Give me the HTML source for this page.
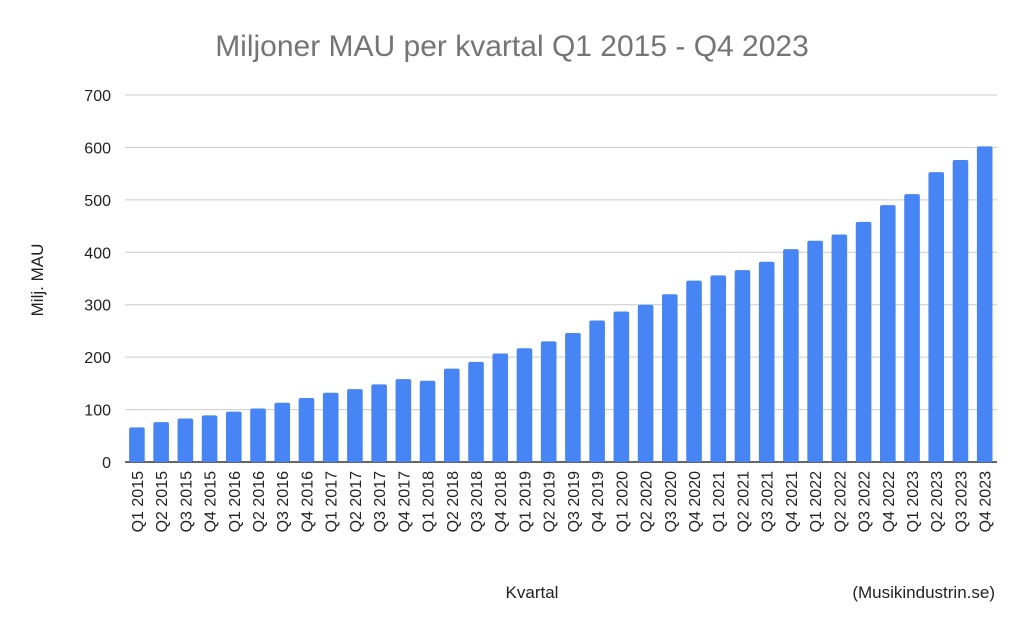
<!DOCTYPE html>
<html><head><meta charset="utf-8"><style>
body{margin:0;background:#fff;font-family:"Liberation Sans",sans-serif}
</style></head><body>
<svg id="chart" width="1024" height="632" xmlns="http://www.w3.org/2000/svg" font-family="Liberation Sans, sans-serif">
<text x="512" y="56" text-anchor="middle" font-size="30" fill="#757575">Miljoner MAU per kvartal Q1 2015 - Q4 2023</text>
<text transform="translate(43,280) rotate(-90)" text-anchor="middle" font-size="17" fill="#222">Milj. MAU</text>
<text x="532" y="598" text-anchor="middle" font-size="17" fill="#222">Kvartal</text>
<text x="995" y="598" text-anchor="end" font-size="17" fill="#222">(Musikindustrin.se)</text>
<g id="grid"></g><g id="bars"></g><g id="xlabels"></g>
</svg>
<script>
const categories=[];
for(let y=2015;y<=2023;y++)for(let q=1;q<=4;q++)categories.push('Q'+q+' '+y);
const values=[66,76,83,89,96,102,113,122,132,139,148,158,155,178,191,207,217,230,246,270,287,300,320,346,356,366,382,406,422,434,458,490,511,553,576,602];
const yTicks=[0,100,200,300,400,500,600,700];
const NS='http://www.w3.org/2000/svg';
const x0=125,x1=997,yBase=462,yTop=95,yMax=700;
const yScale=v=>yBase-(v/yMax)*(yBase-yTop);
const step=(x1-x0)/categories.length;
const xScale=i=>x0+step*(i+0.5)-0.2;
const grid=document.getElementById('grid');
yTicks.forEach(t=>{
 const l=document.createElementNS(NS,'line');
 
 
 l.setAttribute('x1',x0);l.setAttribute('x2',x1);
 l.setAttribute('y1',yScale(t));l.setAttribute('y2',yScale(t));
 l.setAttribute('stroke',t===0?'#333':'#ccc');l.setAttribute('stroke-width',t===0?1.5:1);
 grid.appendChild(l);
 const tx=document.createElementNS(NS,'text');
 
 
 tx.setAttribute('x',111);tx.setAttribute('y',yScale(t)+6);
 tx.setAttribute('text-anchor','end');tx.setAttribute('font-size','16');tx.setAttribute('fill','#222');
 tx.textContent=t;grid.appendChild(tx);
});
const bars=document.getElementById('bars'),xl=document.getElementById('xlabels');
const bw=15.6;
values.forEach((v,i)=>{
 const r=document.createElementNS(NS,'rect');
 
 
 r.setAttribute('x',xScale(i)-bw/2);r.setAttribute('width',bw);
 r.setAttribute('y',yScale(v));r.setAttribute('height',yBase-yScale(v));
 r.setAttribute('rx',2);r.setAttribute('fill','#4785f4');
 bars.appendChild(r);
 const t=document.createElementNS(NS,'text');
 
 
 t.setAttribute('transform','translate('+(xScale(i)+6)+',471) rotate(-90)');
 t.setAttribute('text-anchor','end');t.setAttribute('font-size','16');t.setAttribute('fill','#222');
 t.textContent=categories[i];xl.appendChild(t);
});
</script>
</body></html>
